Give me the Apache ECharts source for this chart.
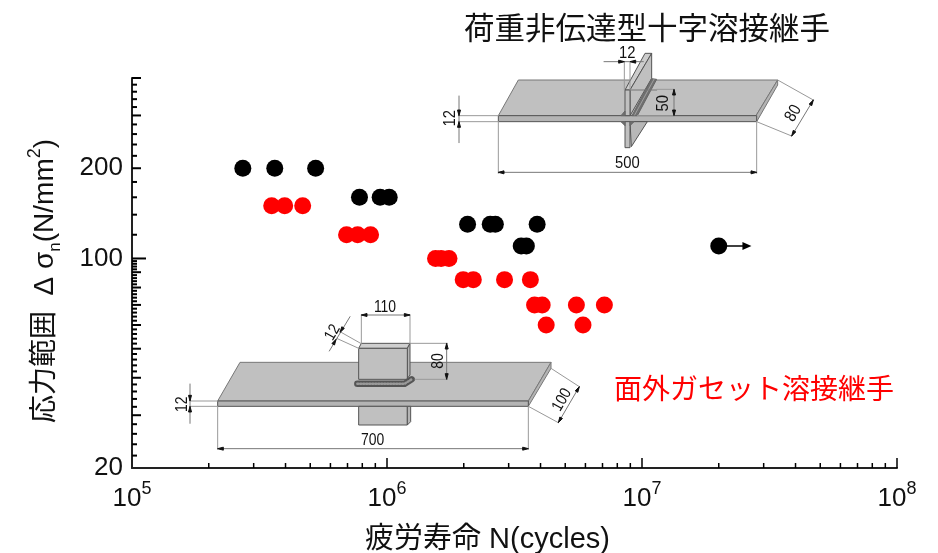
<!DOCTYPE html>
<html>
<head>
<meta charset="utf-8">
<style>html,body{margin:0;padding:0;background:#fff}#chart{width:938px;height:553px}</style>
<script src="https://cdn.jsdelivr.net/npm/echarts@6/dist/echarts.min.js"></script>
</head>
<body>
<div id="chart"></div>
<script>
// 荷重非伝達型十字溶接継手
var blackLife = [2.72e5, 3.63e5, 5.25e5, 7.8e5, 9.4e5, 1.02e6, 2.07e6, 2.54e6, 2.66e6, 3.88e6, 3.36e6, 3.52e6, 2e7];
var blackStress = [200, 200, 200, 160, 160, 160, 130, 130, 130, 130, 110, 110, 110];
// 面外ガセット溶接継手
var redLife = [3.53e5, 3.97e5, 4.67e5, 6.94e5, 7.67e5, 8.62e5, 1.55e6, 1.63e6, 1.75e6, 1.99e6, 2.18e6, 2.89e6, 3.65e6, 3.79e6, 4.06e6, 5.53e6, 7.12e6, 4.21e6, 5.87e6];
var redStress = [150, 150, 150, 120, 120, 120, 100, 100, 100, 85, 85, 85, 85, 70, 70, 70, 70, 60, 60];
// runout arrow from the last black point
var runoutFrom = [2e7, 110];
var runoutTo = [2.58e7, 110];

var xLabelValues = [1e5, 1e6, 1e7, 1e8];
var yLabelValues = [20, 100, 200];
var xMajorTicks = [1e6, 1e7, 1e8];
var xMinorTicks = [2e5, 3e5, 4e5, 5e5, 6e5, 7e5, 8e5, 9e5, 2e6, 3e6, 4e6, 5e6, 6e6, 7e6, 8e6, 9e6, 2e7, 3e7, 4e7, 5e7, 6e7, 7e7, 8e7, 9e7];
var yLongTicks = [100];
var yMidTicks = [30, 40, 50, 60, 70, 80, 90, 200, 300, 400];
var ySmallTicks = [22, 24, 26, 28, 32, 34, 36, 38, 42, 44, 46, 48, 52, 54, 56, 58, 62, 64, 66, 68, 72, 74, 76, 78, 82, 84, 86, 88, 92, 94, 96, 98, 120, 140, 160, 180, 220, 240, 260, 280, 320, 340, 360, 380];

var LATIN = '"Liberation Sans", Arial, sans-serif';
var JP = '"Liberation Sans", "Noto Sans CJK JP", sans-serif';

var chart = echarts.init(document.getElementById('chart'));

function zip(a, b) {
	return a.map(function (v, i) { return [v, b[i]]; });
}

// axis ticks go through the axis scale, length in pixels, dir 'x' or 'y'
function tickSeries(values, len, dir) {
	return {
		type: 'custom',
		silent: true,
		clip: false,
		z: 3,
		data: values.map(function (v) { return dir == 'x' ? [v, 20] : [1e5, v]; }),
		encode: { x: 0, y: 1 },
		renderItem: function (params, api) {
			var p = api.coord([api.value(0), api.value(1)]);
			return {
				type: 'line',
				shape: {
					x1: p[0], y1: p[1],
					x2: dir == 'x' ? p[0] : p[0] + len,
					y2: dir == 'x' ? p[1] - len : p[1]
				},
				style: { stroke: '#000', lineWidth: dir == 'x' ? 1.5 : 2 }
			};
		}
	};
}

// the two specimen drawings, coordinates in 3x crop units around an origin
function sketch(ox, oy) {
	var fx = function (x) { return ox + x / 3; };
	var fy = function (y) { return oy + y / 3; };
	var pts = function (list) { return list.map(function (p) { return [fx(p[0]), fy(p[1])]; }); };
	var api = {
		poly: function (list, fill, stroke, z) {
			return { type: 'polygon', z: z || 1, shape: { points: pts(list) }, style: { fill: fill, stroke: stroke || '#555', lineWidth: 1 } };
		},
		line: function (list, color, w, dash) {
			return { type: 'polyline', z: 1, shape: { points: pts(list) }, style: { fill: null, stroke: color || '#999', lineWidth: w || 1, lineCap: 'round', lineDash: dash || null } };
		},
		arrow: function (tip, from) {
			var dx = from[0] - tip[0], dy = from[1] - tip[1], d = Math.sqrt(dx * dx + dy * dy);
			var ux = dx / d, uy = dy / d, l = 17, h = 4.5;
			return api.poly([tip, [tip[0] + ux * l - uy * h, tip[1] + uy * l + ux * h], [tip[0] + ux * l + uy * h, tip[1] + uy * l - ux * h]], '#111', '#111', 2);
		},
		text: function (s, x, y, deg, size) {
			return {
				type: 'text', z: 2, x: fx(x), y: fy(y), rotation: (deg || 0) * Math.PI / 180, scaleX: 0.87,
				style: { text: s, align: 'center', verticalAlign: 'middle', fontFamily: LATIN, fontSize: size, fill: '#111' }
			};
		}
	};
	return api;
}

function crossJoint() {
	var s = sketch(430, 0), face = '#c0c0c0', edge = '#b4b4b4';
	return [
		s.poly([[265, 240], [1043, 240], [978, 347], [205, 347]], face, '#777'),
		s.poly([[978, 347], [1043, 240], [1043, 255], [980, 365]], edge, '#777'),
		s.poly([[205, 347], [980, 347], [980, 365], [205, 365]], edge),
		s.poly([[585, 270], [645, 160], [665, 160], [600, 270]], '#cccccc'),
		s.poly([[600, 270], [665, 160], [665, 235], [600, 347]], face),
		s.poly([[606, 347], [665, 236], [680, 238], [622, 347]], '#707070', '#666'),
		s.line([[614, 345], [672, 238]], '#a0a0a0', 1),
		s.poly([[585, 270], [600, 270], [600, 347], [585, 347]], face),
		s.line([[600, 270], [680, 270]], '#777'),
		s.poly([[600, 365], [652, 365], [604, 440]], '#b8b8b8'),
		s.poly([[585, 365], [600, 365], [600, 443], [585, 443]], face),
		s.poly([[573, 347], [585, 333], [585, 347]], '#707070', '#666'),
		s.poly([[573, 365], [585, 377], [585, 365]], '#707070', '#666'),
		s.poly([[600, 365], [612, 365], [600, 377]], '#707070', '#666'),
		s.line([[85, 347], [205, 347]]), s.line([[85, 365], [205, 365]]),
		s.line([[87, 288], [87, 428]], '#777'),
		s.arrow([87, 347], [87, 300]), s.arrow([87, 365], [87, 420]),
		s.text('12', 62, 355, 90, 17),
		s.line([[583, 185], [583, 270]]), s.line([[600, 185], [600, 270]]),
		s.line([[522, 185], [640, 185]], '#777'),
		s.arrow([583, 185], [530, 185]), s.arrow([600, 185], [640, 185]),
		s.text('12', 592, 160, 0, 17),
		s.line([[680, 268], [732, 268]]), s.line([[622, 347], [732, 347]]),
		s.line([[732, 268], [732, 347]], '#777'),
		s.arrow([732, 268], [732, 310]), s.arrow([732, 347], [732, 305]),
		s.text('50', 700, 310, 90, 17),
		s.line([[1043, 240], [1150, 300]]), s.line([[980, 365], [1085, 408]]),
		s.line([[1150, 300], [1085, 408]], '#777'),
		s.arrow([1150, 300], [1125, 342]), s.arrow([1085, 408], [1105, 374]),
		s.text('80', 1090, 340, 60, 17),
		s.line([[205, 365], [205, 520]]), s.line([[980, 365], [980, 520]]),
		s.line([[205, 517], [980, 517]], '#777'),
		s.arrow([205, 517], [260, 517]), s.arrow([980, 517], [920, 517]),
		s.text('500', 592, 490, 0, 17)
	];
}

function gussetJoint() {
	var s = sketch(170, 290), face = '#c0c0c0', edge = '#b4b4b4';
	return [
		s.poly([[143, 333], [210, 217], [1143, 217], [1075, 333]], face, '#777'),
		s.poly([[1075, 333], [1143, 217], [1143, 235], [1075, 349]], edge, '#777'),
		s.poly([[143, 333], [1075, 333], [1075, 349], [143, 349]], edge),
		s.poly([[566, 175], [574, 160], [720, 160], [712, 175]], '#cfcfcf'),
		s.poly([[712, 175], [720, 160], [720, 255], [712, 265]], edge),
		s.poly([[566, 175], [712, 175], [712, 268], [566, 268]], face),
		s.line([[562, 281], [704, 281], [725, 268]], '#555', 6.5),
		s.line([[562, 281], [704, 281], [725, 268]], '#999', 2.5, [1, 2]),
		s.poly([[566, 349], [712, 349], [712, 405], [566, 405]], face),
		s.poly([[712, 349], [722, 349], [722, 395], [712, 405]], edge),
		s.line([[574, 75], [574, 160]]), s.line([[720, 75], [720, 160]]),
		s.line([[574, 75], [720, 75]], '#777'),
		s.arrow([574, 75], [620, 75]), s.arrow([720, 75], [675, 75]),
		s.text('110', 645, 52, 0, 16),
		s.line([[510, 125], [572, 160]]), s.line([[500, 145], [566, 175]]),
		s.line([[478, 183], [540, 80]], '#777'),
		s.arrow([510, 127], [530, 96]), s.arrow([498, 148], [480, 180]),
		s.text('12', 488, 128, 60, 16),
		s.line([[720, 160], [832, 160]]), s.line([[735, 268], [832, 268]]),
		s.line([[830, 160], [830, 268]], '#777'),
		s.arrow([830, 160], [830, 205]), s.arrow([830, 268], [830, 225]),
		s.text('80', 805, 213, 90, 16),
		s.line([[60, 333], [143, 333]]), s.line([[60, 349], [143, 349]]),
		s.line([[60, 282], [60, 400]], '#777'),
		s.arrow([60, 333], [60, 295]), s.arrow([60, 349], [60, 390]),
		s.text('12', 38, 343, 90, 16),
		s.line([[1143, 235], [1228, 290]]), s.line([[1075, 349], [1165, 398]]),
		s.line([[1228, 290], [1165, 398]], '#777'),
		s.arrow([1228, 290], [1205, 330]), s.arrow([1165, 398], [1188, 358]),
		s.text('100', 1176, 330, 60, 16),
		s.line([[143, 349], [143, 478]]), s.line([[1075, 349], [1075, 478]]),
		s.line([[143, 476], [1075, 476]], '#777'),
		s.arrow([143, 476], [200, 476]), s.arrow([1075, 476], [1020, 476]),
		s.text('700', 608, 452, 0, 16)
	];
}

var option = {
	animation: false,
	backgroundColor: '#fff',
	title: [
		{
			text: '荷重非伝達型十字溶接継手', left: 642, top: 10, textAlign: 'center',
			textStyle: { fontFamily: JP, fontSize: 30.5, fontWeight: 'normal', color: '#111' }
		},
		{
			text: '面外ガセット溶接継手', left: 749, top: 372, textAlign: 'center',
			textStyle: { fontFamily: JP, fontSize: 28, fontWeight: 'normal', color: '#f00' }
		}
	],
	grid: { left: 132, right: 41, top: 78, bottom: 85, outerBoundsMode: 'none' },
	xAxis: {
		type: 'log', logBase: 10, min: 1e5, max: 1e8,
		name: '疲労寿命 N(cycles)', nameLocation: 'middle', nameGap: 57,
		nameTextStyle: { fontFamily: JP, fontSize: 29, color: '#111', padding: [0, 0, 0, -54] },
		axisLine: { lineStyle: { color: '#222', width: 2 } },
		axisTick: { show: false },
		splitLine: { show: false },
		axisLabel: {
			customValues: xLabelValues, margin: 12,
			formatter: function (v) { return '{b|10}{s|' + Math.round(Math.log(v) / Math.LN10) + '}'; },
			rich: {
				b: { fontFamily: LATIN, fontSize: 26, color: '#111', lineHeight: 32, verticalAlign: 'bottom' },
				s: { fontFamily: LATIN, fontSize: 18, color: '#111', lineHeight: 32, verticalAlign: 'top' }
			}
		}
	},
	yAxis: {
		type: 'log', logBase: 10, min: 20, max: 400,
		name: '{t|応力範囲  Δ σ}{l|n}{t|(N/mm}{h|2}{t|)}', nameLocation: 'middle', nameRotate: 90, nameGap: 68,
		nameTextStyle: {
			padding: [0, 0, 0, -16],
			rich: {
				t: { fontFamily: JP, fontSize: 28, color: '#111', lineHeight: 38 },
				l: { fontFamily: LATIN, fontSize: 17, color: '#111', lineHeight: 38, verticalAlign: 'bottom' },
				h: { fontFamily: LATIN, fontSize: 18, color: '#111', lineHeight: 38, verticalAlign: 'top' }
			}
		},
		axisLine: { lineStyle: { color: '#222', width: 2 } },
		axisTick: { show: false },
		splitLine: { show: false },
		axisLabel: { customValues: yLabelValues, margin: 9, verticalAlignMinLabel: 'middle', fontFamily: LATIN, fontSize: 26, color: '#111' }
	},
	graphic: { elements: crossJoint().concat(gussetJoint()) },
	series: [
		{
			type: 'scatter', name: '荷重非伝達型十字溶接継手', symbolSize: 17, z: 5,
			itemStyle: { color: '#000', opacity: 1 },
			data: zip(blackLife, blackStress),
			markLine: {
				silent: true, animation: false,
				symbol: ['none', 'triangle'], symbolSize: [8, 9],
				label: { show: false },
				lineStyle: { color: '#000', type: 'solid', width: 1.5 },
				data: [[{ coord: runoutFrom }, { coord: runoutTo }]]
			}
		},
		{
			type: 'scatter', name: '面外ガセット溶接継手', symbolSize: 17, z: 5,
			itemStyle: { color: '#f00', opacity: 1 },
			data: zip(redLife, redStress)
		},
		tickSeries(xMajorTicks, 10, 'x'),
		tickSeries(xMinorTicks, 5, 'x'),
		tickSeries(yLongTicks, 14, 'y'),
		tickSeries(yMidTicks, 9, 'y'),
		tickSeries(ySmallTicks, 5, 'y')
	]
};
chart.setOption(option);
</script>
</body>
</html>
